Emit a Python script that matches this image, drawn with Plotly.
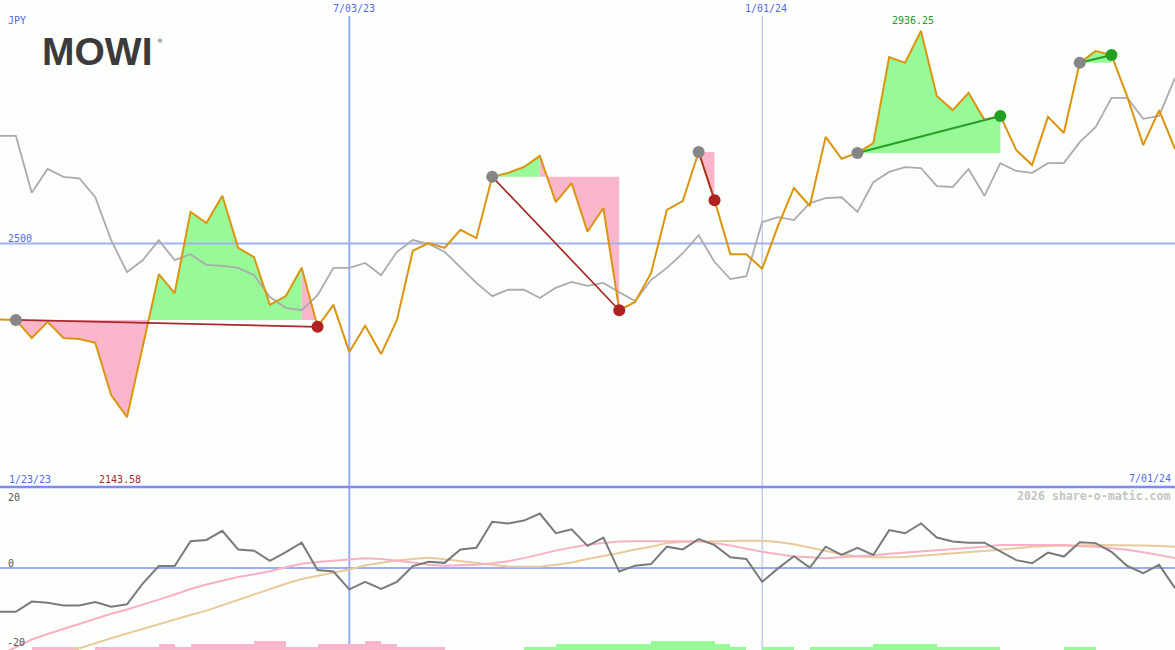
import numpy as np
import pandas as pd
import plotly.graph_objects as go

# ---------------- data ----------------
dates = pd.date_range("2023-01-30", periods=75, freq="7D")

price = [2344, 2343, 2306, 2339, 2306, 2304, 2296, 2189, 2143.58, 2292,
         2437, 2398, 2565, 2542, 2598, 2491, 2472, 2374, 2392, 2450,
         2329, 2374, 2277, 2331, 2273, 2343, 2485, 2501, 2491, 2528,
         2511, 2637, 2645, 2657, 2680, 2585, 2624, 2524, 2573, 2363,
         2380, 2439, 2569, 2587, 2688, 2589, 2478, 2478, 2448, 2536,
         2614, 2577, 2719, 2674, 2686, 2706, 2883, 2871, 2936.25, 2803,
         2774, 2809, 2754, 2762, 2692, 2661, 2760, 2727, 2871, 2895,
         2887, 2801, 2702, 2774, 2694]

bench = [2721, 2721, 2604, 2653, 2637, 2634, 2595, 2507, 2441, 2466,
         2507, 2466, 2478, 2456, 2454, 2450, 2435, 2390, 2368, 2363,
         2394, 2450, 2450, 2460, 2435, 2483, 2507, 2499, 2483, 2452,
         2419, 2392, 2405, 2405, 2388, 2409, 2421, 2413, 2419, 2400,
         2382, 2425, 2450, 2480, 2517, 2462, 2427, 2433, 2544, 2554,
         2548, 2583, 2593, 2595, 2565, 2626, 2647, 2657, 2655, 2618,
         2616, 2653, 2598, 2665, 2649, 2645, 2665, 2665, 2708, 2739,
         2799, 2799, 2756, 2762, 2840]

osc = [-11.1, -11.1, -8.5, -8.8, -9.5, -9.5, -8.6, -9.8, -9.2, -3.9,
       0.5, 0.5, 6.8, 7.1, 9.4, 4.7, 4.4, 1.8, 4.0, 6.4,
       -0.5, -0.9, -5.4, -3.5, -5.3, -3.5, 0.5, 1.6, 1.3, 4.7,
       5.1, 11.7, 11.3, 12.0, 13.8, 8.8, 9.8, 5.6, 7.7, -0.9,
       0.6, 1.0, 5.4, 4.7, 7.3, 5.8, 2.7, 2.3, -3.5, -0.1,
       3.0, 0.1, 5.4, 3.3, 5.1, 3.3, 9.6, 8.8, 11.3, 7.7,
       6.7, 6.4, 6.4, 4.3, 2.0, 1.2, 3.9, 2.9, 6.5, 6.3,
       4.1, 0.5, -1.3, 0.8, -5.1]

osc_fast = [-22.0, -20.1, -18.1, -16.7, -15.4, -14.2, -12.8, -11.6, -10.5, -9.3,
            -8.0, -6.7, -5.3, -4.2, -3.2, -2.3, -1.6, -0.8, 0.2, 1.1,
            1.5, 1.8, 2.1, 2.5, 2.3, 1.9, 1.4, 0.8, 0.6, 0.7,
            0.8, 1.2, 1.7, 2.5, 3.5, 4.4, 5.2, 5.9, 6.3, 6.7,
            6.8, 6.8, 6.9, 6.9, 6.8, 6.3, 5.7, 4.9, 4.1, 3.5,
            2.9, 2.7, 2.5, 2.7, 2.9, 3.2, 3.6, 3.9, 4.1, 4.4,
            4.7, 5.0, 5.4, 5.8, 5.8, 5.8, 5.8, 5.8, 5.5, 5.4,
            5.0, 4.6, 4.0, 3.2, 2.5]

osc_slow = [-26.7, -25.4, -24.2, -22.9, -21.6, -20.4, -19.1, -17.8, -16.6, -15.4,
            -14.2, -13.0, -11.9, -10.8, -9.4, -8.1, -6.7, -5.3, -4.0, -2.8,
            -2.0, -1.3, -0.4, 0.7, 1.3, 1.9, 2.3, 2.6, 2.2, 1.7,
            1.2, 0.8, 0.4, 0.4, 0.3, 0.8, 1.4, 2.3, 3.0, 3.8,
            4.7, 5.4, 6.3, 6.6, 6.7, 6.8, 6.9, 6.9, 6.9, 6.6,
            6.0, 5.2, 4.4, 3.5, 2.9, 2.7, 2.7, 2.8, 3.1, 3.4,
            3.7, 3.9, 4.3, 4.6, 5.0, 5.4, 5.6, 5.6, 5.7, 5.8,
            5.8, 5.8, 5.7, 5.6, 5.4]

hist_level = [0, 0, -1, -1, -1, 0, -1, -1, -1, -1,
              -2, -1, -2, -2, -2, -2, -3, -3, -1, -1,
              -2, -2, -2, -3, -2, -1, -1, -1, 0, 0,
              0, 0, 0, 1, 1, 2, 2, 2, 2, 2,
              2, 3, 3, 3, 3, 2, 1, 0, 1, 1,
              0, 1, 1, 1, 1, 2, 2, 2, 2, 1,
              1, 1, 1, 0, 0, 0, 0, 1, 1, 0,
              0, 0, 0, 0, 0]

trade_entry = [1, 31, 44, 54, 68]
trade_exit = [20, 39, 45, 63, 70]

month_marks = ["2023-07-03", "2024-01-01"]
month_labels = ["7/03/23", "1/01/24"]
price_ref = 2500
start_label = "1/23/23"
end_label = "7/01/24"
osc_ticks = [20, 0, -20]

# ---------------- styling ----------------
W, H = 1175, 650
SPLIT = 487
BG = "#fcfefc"
BLUE_TXT = "#5566ee"
GREEN_FILL = "#98f998"
PINK_FILL = "#f9b6ca"
ORANGE = "#dc9410"
GRAYLINE = "#ababab"
MONO = "DejaVu Sans Mono"

main_dom = [1 - SPLIT / H, 1]
low_dom = [0, 1 - SPLIT / H]
low_range = [-20.76, 20.51]
bar_unit = 0.76

fig = go.Figure()

price_arr = np.array(price, dtype=float)


def add_poly(xs, ys, color):
    fig.add_trace(go.Scatter(x=xs, y=ys, mode="lines", fill="toself",
                             fillcolor=color, line=dict(width=0, color=color),
                             hoverinfo="skip", showlegend=False))


# trade area fills
for a, b in zip(trade_entry, trade_exit):
    base = price_arr[a]
    idx = [k for k in range(a, b + 1) if price_arr[k] >= base]
    s = max(idx)
    if s > a:
        xs, ps = [], []
        for k in range(a, s + 1):
            xs.append(dates[k]); ps.append(price_arr[k])
            if k < s:
                p0, p1 = price_arr[k], price_arr[k + 1]
                if (p0 - base) * (p1 - base) < 0:
                    t = (base - p0) / (p1 - p0)
                    xs.append(dates[k] + (dates[k + 1] - dates[k]) * t)
                    ps.append(base)
        ps = np.array(ps)
        up = np.maximum(ps, base)
        dn = np.minimum(ps, base)
        add_poly(xs + xs[::-1], list(up) + [base] * len(xs), GREEN_FILL)
        add_poly(xs + xs[::-1], list(dn) + [base] * len(xs), PINK_FILL)
    if s < b:
        xs = list(dates[s:b + 1]) + [dates[b], dates[s]]
        ys = list(price_arr[s:b + 1]) + [base, base]
        add_poly(xs, ys, PINK_FILL)

# reference line at 2500 (drawn over fills)
fig.add_trace(go.Scatter(x=[dates[0], dates[-1]], y=[price_ref, price_ref], mode="lines",
                         line=dict(color="#a2aff3", width=2), hoverinfo="skip"))

# benchmark & price
fig.add_trace(go.Scatter(x=dates, y=bench, mode="lines",
                         line=dict(color=GRAYLINE, width=1.8)))
fig.add_trace(go.Scatter(x=dates, y=price, mode="lines",
                         line=dict(color=ORANGE, width=2)))

# trade lines and markers
for a, b in zip(trade_entry, trade_exit):
    win = price_arr[b] > price_arr[a]
    lc = "#25a025" if win else "#a52a2a"
    fig.add_trace(go.Scatter(x=[dates[a], dates[b]], y=[price_arr[a], price_arr[b]],
                             mode="lines", line=dict(color=lc, width=2 if win else 1.7)))
for a, b in zip(trade_entry, trade_exit):
    win = price_arr[b] > price_arr[a]
    fig.add_trace(go.Scatter(x=[dates[a]], y=[price_arr[a]], mode="markers",
                             marker=dict(size=12, color="#868686")))
    fig.add_trace(go.Scatter(x=[dates[b]], y=[price_arr[b]], mode="markers",
                             marker=dict(size=12, color="#22a022" if win else "#b02222")))

# lower panel
bar_h = [abs(v) * bar_unit for v in hist_level]
bar_c = [PINK_FILL if v < 0 else GREEN_FILL for v in hist_level]
fig.add_trace(go.Bar(x=dates, y=bar_h, base=low_range[0], yaxis="y2",
                     marker=dict(color=bar_c, line=dict(width=0)),
                     width=7 * 86400000, offset=0))
fig.add_trace(go.Scatter(x=dates, y=osc_slow, yaxis="y2", mode="lines",
                         line=dict(color="#e8cb9c", width=2)))
fig.add_trace(go.Scatter(x=dates, y=osc_fast, yaxis="y2", mode="lines",
                         line=dict(color="#f8b0c4", width=2)))
fig.add_trace(go.Scatter(x=dates, y=osc, yaxis="y2", mode="lines",
                         line=dict(color="#7a7a7a", width=2)))

shapes = [
    dict(type="line", xref="x", yref="paper", x0=month_marks[0], x1=month_marks[0],
         y0=0, y1=1 - 16 / H, line=dict(color="#9aaaf4", width=2), layer="below"),
    dict(type="line", xref="x", yref="paper", x0=month_marks[1], x1=month_marks[1],
         y0=0, y1=1 - 16 / H, line=dict(color="#aab3e6", width=1), layer="below"),
    dict(type="line", xref="paper", yref="y2", x0=0, x1=1, y0=0, y1=0,
         line=dict(color="#9eabf2", width=2), layer="below"),
    dict(type="line", xref="paper", yref="paper", x0=0, x1=1,
         y0=1 - SPLIT / H, y1=1 - SPLIT / H, line=dict(color="#7d8cee", width=2.5),
         layer="above"),
]


def px(x):
    return x / W


def py(y):
    return 1 - y / H


ann = []


def label(text, x, y, xanchor="left", color=BLUE_TXT, size=10, family=MONO, bold=False):
    ann.append(dict(text=("<b>%s</b>" % text) if bold else text, x=px(x), y=py(y),
                    xref="paper", yref="paper", xanchor=xanchor, yanchor="middle",
                    showarrow=False, font=dict(family=family, size=size, color=color)))


label("JPY", 6, 21)
label(month_labels[0], 353.5, 9, "center")
label(month_labels[1], 766, 9, "center")
label(str(price_ref), 6, 238)
label(start_label, 7, 479)
label(end_label, 1173, 478, "right")
label("2026 share-o-matic.com", 1173, 496, "right", color="#c4c4c4", size=11.6, bold=True)
label(str(osc_ticks[0]), 6, 497, color="#555555")
label(str(osc_ticks[1]), 6, 563, color="#555555")
label(str(osc_ticks[2]), 5, 642, color="#555555")
# max / min labels
imax = int(np.argmax(price_arr))
imin = int(np.argmin(price_arr))
ann.append(dict(text="%.2f" % price_arr[imax], x=dates[imax], y=price_arr[imax],
                xref="x", yref="y", xanchor="center", yanchor="middle", xshift=-8, yshift=11,
                showarrow=False, font=dict(family=MONO, size=10, color="#229922")))
ann.append(dict(text="%.2f" % price_arr[imin], x=dates[imin], y=py(479),
                xref="x", yref="paper", xanchor="center", yanchor="middle", xshift=-7,
                showarrow=False, font=dict(family=MONO, size=10, color="#a52a2a")))
# logo
label("MOWI", 40, 52, family="Liberation Sans", size=39, color="#3c3a3a", bold=True)
label("®", 155, 41, family="DejaVu Sans", size=6, color="#3c3a3a")

fig.update_layout(
    width=W, height=H, margin=dict(l=0, r=0, t=0, b=0),
    paper_bgcolor=BG, plot_bgcolor=BG, showlegend=False, bargap=0,
    xaxis=dict(type="date", range=[dates[0], dates[-1]], showgrid=False, zeroline=False,
               showticklabels=False, showline=False, fixedrange=True),
    yaxis=dict(domain=main_dom, range=[2000, 3000], showgrid=False, zeroline=False,
               showticklabels=False, showline=False),
    yaxis2=dict(domain=low_dom, range=low_range, showgrid=False, zeroline=False,
                showticklabels=False, showline=False),
    shapes=shapes, annotations=ann,
)

fig.write_html(
    "out.html",
    config={"displayModeBar": False},
    post_script="document.body.style.margin='0px';document.body.style.padding='0px';"
                "document.body.style.overflow='hidden';"
                "document.documentElement.style.overflow='hidden';"
                "document.body.style.background='#fcfefc';",
)
